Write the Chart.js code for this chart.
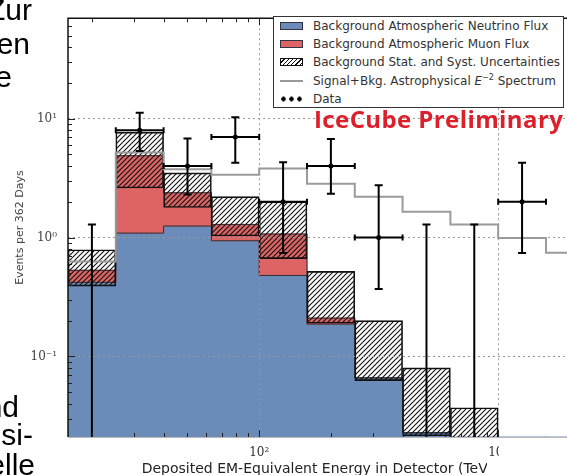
<!DOCTYPE html>
<html>
<head>
<meta charset="utf-8">
<script src="https://cdn.jsdelivr.net/npm/chart.js@4.4.0/dist/chart.umd.min.js"></script>
<style>
  html, body { margin: 0; padding: 0; background: #fff; overflow: hidden; }
  #wrap { position: relative; width: 567px; height: 475px; overflow: hidden; }
  #chart { position: absolute; left: 0; top: 0; }
  .slide { position: absolute; font-family: 'Liberation Sans', Arial, sans-serif; font-size: 30px; line-height: 30px; color: #000; white-space: nowrap; transform: translateX(-100%); }
  #legend { position: absolute; left: 273px; top: 16px; width: 291px; height: 92px; border: 1px solid #333; background: #fff; box-sizing: border-box;
            font-family: 'DejaVu Sans', sans-serif; font-size: 12px; color: #333; }
  #legend .row { position: relative; height: 18.2px; line-height: 18.2px; padding-left: 39px; white-space: nowrap; }
  #legend .row sup { font-size: 8px; line-height: 0; vertical-align: 5px; }
  #legend .mark { position: absolute; left: 6px; top: 50%; width: 23px; transform: translateY(-50%); }
  #preliminary { position: absolute; left: 314px; top: 107px; font-family: 'Open Sans', sans-serif; font-weight: 700; font-size: 24px; line-height: 24px; letter-spacing: 0.4px; color: #dc1f2b; white-space: nowrap; }
  .cover { position: absolute; background: #fff; }
</style>
</head>
<body>
<div id="wrap">
  <canvas id="chart" width="567" height="475"></canvas>
  <div id="legend"></div>
  <div id="preliminary">IceCube Preliminary</div>
  <div class="cover" style="left:499px; top:440px; width:68px; height:35px;"></div>
  <div class="cover" style="left:487px; top:459px; width:14px; height:16px;"></div>
  <div class="slide" style="left:32px; top:-5px;">Zur</div>
  <div class="slide" style="left:30px; top:29px;">en</div>
  <div class="slide" style="left:12px; top:62px;">e</div>
  <div class="slide" style="left:19px; top:392px;">nd</div>
  <div class="slide" style="left:33px; top:420px;">si-</div>
  <div class="slide" style="left:35px; top:450px;">elle</div>
</div>
<script>
// bins are 0.2 wide in log10(E / TeV)
const binEdgesLog = [1.2, 1.4, 1.6, 1.8, 2.0, 2.2, 2.4, 2.6, 2.8, 3.0, 3.2, 3.4];
const neutrinoFlux = [0.42, 1.09, 1.25, 0.94, 0.48, 0.187, 0.066, 0.0228, 0.012, 0.006, 0.004];
const muonFlux = [0.11, 3.79, 1.13, 0.35, 0.59, 0.023, 0, 0, 0, 0, 0];
const uncertLow = [0.39, 2.61, 1.79, 1.03, 0.665, 0.19, 0.0625, 0.0215, 0.005, null, null];
const uncertHigh = [0.79, 7.7, 3.5, 2.21, 2.0, 0.52, 0.2, 0.08, 0.037, null, null];
const signalBkg = [0.63, 5.2, 3.75, 3.38, 3.8, 2.83, 2.2, 1.65, 1.29, 0.99, 0.745];
const dataCounts = [0, 8, 4, 7, 2, 4, 1, 0, 0, 2];
const dataLow = [0, 5.35, 2.3, 4.25, 0.74, 2.33, 0.37, 0, 0, 0.74];
const dataHigh = [1.29, 11.2, 6.8, 10.3, 4.3, 6.75, 2.76, 1.29, 1.29, 4.25];
const xTickValues = [2, 3];
const yTickValues = [0.1, 1, 10];

const BLUE = '#6b8bb9';
const RED = '#dc6464';
const GREY = '#9a9a9a';
const EDGE = '#2e2e36';

const legendItems = [
    { kind: 'box', color: BLUE, text: 'Background Atmospheric Neutrino Flux' },
    { kind: 'box', color: RED, text: 'Background Atmospheric Muon Flux' },
    { kind: 'hatch', text: 'Background Stat. and Syst. Uncertainties' },
    { kind: 'line', text: 'Signal+Bkg. Astrophysical <i>E</i><sup>\u22122</sup> Spectrum' },
    { kind: 'dots', text: 'Data' }
];

const SUP = { '-': '\u207B', '0': '\u2070', '1': '\u00B9', '2': '\u00B2', '3': '\u00B3' };
function pow10Label(exp) {
    return '10' + String(exp).split('').map(c => SUP[c]).join('');
}

function makeHatch() {
    const s = 5;
    const c = document.createElement('canvas');
    c.width = s; c.height = s;
    const g = c.getContext('2d');
    g.strokeStyle = '#111';
    g.lineWidth = 1.1;
    g.beginPath();
    g.moveTo(0, s); g.lineTo(s, 0);
    g.moveTo(-1, 1); g.lineTo(1, -1);
    g.moveTo(s - 1, s + 1); g.lineTo(s + 1, s - 1);
    g.stroke();
    return g.createPattern(c, 'repeat');
}

function buildLegend() {
    const box = document.getElementById('legend');
    legendItems.forEach(item => {
        const row = document.createElement('div');
        row.className = 'row';
        let mark = '';
        if (item.kind === 'box') {
            mark = `<span class="mark" style="height:8px;background:${item.color};border:1px solid #334;box-sizing:border-box"></span>`;
        } else if (item.kind === 'hatch') {
            mark = '<span class="mark" style="height:8px;border:1px solid #111;box-sizing:border-box;background:repeating-linear-gradient(135deg,#fff 0 2px,#111 2px 3px)"></span>';
        } else if (item.kind === 'line') {
            mark = `<span class="mark" style="height:2px;background:${GREY}"></span>`;
        } else {
            mark = '<span class="mark" style="height:5px;background:radial-gradient(circle at 2.5px 2.5px,#000 2px,transparent 2.5px) 1px 0/8px 5px repeat-x"></span>';
        }
        row.innerHTML = mark + item.text;
        box.appendChild(row);
    });
}

// step outline through the bin edges (last bin value repeated at the right edge)
function stepPoints(values) {
    return binEdgesLog.map((e, i) => ({ x: e, y: values[Math.min(i, values.length - 1)] }));
}

document.addEventListener('DOMContentLoaded', () => {
    buildLegend();

    const centers = binEdgesLog.slice(0, -1).map((e, i) => (e + binEdgesLog[i + 1]) / 2);
    const totalBkg = neutrinoFlux.map((v, i) => v + muonFlux[i]);
    const hatch = makeHatch();

    // error bars of the data points, drawn through the chart scales
    const errorBars = {
        id: 'errorBars',
        afterDraw(chart) {
            const { ctx, chartArea: a, scales: { x, y } } = chart;
            ctx.save();
            ctx.beginPath();
            ctx.rect(a.left, a.top, a.right - a.left, a.bottom - a.top);
            ctx.clip();
            ctx.strokeStyle = '#000';
            ctx.fillStyle = '#000';
            ctx.lineWidth = 2;
            dataCounts.forEach((n, i) => {
                const cx = x.getPixelForValue(centers[i]);
                const yTop = y.getPixelForValue(dataHigh[i]);
                const yBot = dataLow[i] > 0 ? y.getPixelForValue(dataLow[i]) : a.bottom + 2;
                ctx.beginPath();
                ctx.moveTo(cx, yTop); ctx.lineTo(cx, yBot);
                ctx.moveTo(cx - 4, yTop); ctx.lineTo(cx + 4, yTop);
                if (dataLow[i] > 0) { ctx.moveTo(cx - 4, yBot); ctx.lineTo(cx + 4, yBot); }
                if (n > 0) {
                    const yc = y.getPixelForValue(n);
                    const x0 = x.getPixelForValue(binEdgesLog[i]);
                    const x1 = x.getPixelForValue(binEdgesLog[i + 1]);
                    ctx.moveTo(x0, yc); ctx.lineTo(x1, yc);
                    ctx.moveTo(x0, yc - 3); ctx.lineTo(x0, yc + 3);
                    ctx.moveTo(x1, yc - 3); ctx.lineTo(x1, yc + 3);
                }
                ctx.stroke();
                if (n > 0) {
                    ctx.beginPath();
                    ctx.arc(cx, y.getPixelForValue(n), 2.5, 0, Math.PI * 2);
                    ctx.fill();
                }
            });
            ctx.restore();
        }
    };

    // spines and inward matplotlib-like ticks
    const axisDecor = {
        id: 'axisDecor',
        afterDraw(chart) {
            const { ctx, chartArea: a, scales: { x, y } } = chart;
            ctx.save();
            ctx.lineWidth = 1;
            ctx.strokeStyle = '#222';
            ctx.beginPath();
            for (let n = 1; n <= 3; n++) {
                for (let k = 1; k <= 9; k++) {
                    const v = n + Math.log10(k);
                    if (v < x.min || v > x.max) continue;
                    const px = Math.round(x.getPixelForValue(v)) + 0.5;
                    const len = k === 1 ? 7 : 4;
                    ctx.moveTo(px, a.bottom); ctx.lineTo(px, a.bottom - len);
                    ctx.moveTo(px, a.top); ctx.lineTo(px, a.top + len);
                }
            }
            for (let n = -2; n <= 1; n++) {
                for (let k = 1; k <= 9; k++) {
                    const v = k * Math.pow(10, n);
                    if (v < y.min || v > y.max) continue;
                    const py = Math.round(y.getPixelForValue(v)) + 0.5;
                    const len = k === 1 ? 7 : 4;
                    ctx.moveTo(a.left, py); ctx.lineTo(a.left + len, py);
                }
            }
            ctx.stroke();
            ctx.strokeStyle = '#bbb';
            ctx.beginPath();
            ctx.moveTo(a.left, a.bottom + 0.5); ctx.lineTo(a.right, a.bottom + 0.5);
            ctx.stroke();
            ctx.strokeStyle = '#111';
            ctx.lineWidth = 1.5;
            ctx.beginPath();
            ctx.moveTo(a.left, a.bottom); ctx.lineTo(a.left, a.top); ctx.lineTo(a.right, a.top);
            ctx.stroke();
            ctx.restore();
        }
    };

    const datasets = [
        {
            type: 'line',
            data: stepPoints(signalBkg),
            stepped: true,
            borderColor: GREY,
            borderWidth: 2,
            pointRadius: 0,
            order: 1
        },
        {
            data: centers.map((c, i) => ({ x: c, y: uncertHigh[i] == null ? null : [uncertLow[i], uncertHigh[i]] })),
            backgroundColor: hatch,
            borderColor: '#111',
            borderWidth: 1,
            borderSkipped: false,
            grouped: false,
            order: 2
        },
        {
            type: 'line',
            data: stepPoints(totalBkg),
            stepped: true,
            borderColor: EDGE,
            borderWidth: 1,
            pointRadius: 0,
            order: 3
        },
        {
            type: 'line',
            data: stepPoints(neutrinoFlux),
            stepped: true,
            borderColor: EDGE,
            borderWidth: 1,
            pointRadius: 0,
            order: 4
        },
        {
            data: centers.map((c, i) => ({ x: c, y: muonFlux[i] > 0 ? [neutrinoFlux[i], totalBkg[i]] : null })),
            backgroundColor: RED,
            borderWidth: 0,
            inflateAmount: 0.5,
            grouped: false,
            order: 5
        },
        {
            data: centers.map((c, i) => ({ x: c, y: neutrinoFlux[i] })),
            backgroundColor: BLUE,
            borderWidth: 0,
            inflateAmount: 0.5,
            grouped: false,
            order: 6
        }
    ];

    const ctx = document.getElementById('chart').getContext('2d');
    new Chart(ctx, {
        type: 'bar',
        data: { datasets: datasets },
        options: {
            responsive: false,
            animation: false,
            devicePixelRatio: 1,
            barPercentage: 1,
            categoryPercentage: 1,
            layout: { padding: { top: 10, right: 0, bottom: 0, left: 0 } },
            plugins: { legend: { display: false }, tooltip: { enabled: false } },
            scales: {
                x: {
                    type: 'linear',
                    min: 1.2,
                    max: 3.288,
                    offset: false,
                    afterBuildTicks: axis => { axis.ticks = xTickValues.map(v => ({ value: v })); },
                    afterFit: axis => { axis.height = 38; },
                    grid: { offset: false, color: '#999', lineWidth: 1, drawTicks: false, z: 1 },
                    border: { display: false, dash: [2, 3] },
                    ticks: {
                        padding: 9,
                        color: '#333',
                        font: { family: 'DejaVu Serif', size: 12 },
                        callback: v => pow10Label(v)
                    },
                    title: {
                        display: true,
                        text: 'Deposited EM-Equivalent Energy in Detector (TeV)',
                        color: '#222',
                        font: { family: 'DejaVu Sans', size: 14 },
                        padding: { top: 0, bottom: -3 }
                    }
                },
                y: {
                    type: 'logarithmic',
                    min: 0.021,
                    max: 70,
                    afterBuildTicks: axis => { axis.ticks = yTickValues.map(v => ({ value: v })); },
                    afterFit: axis => { axis.width = 68; },
                    grid: { color: '#999', lineWidth: 1, drawTicks: false, z: 1 },
                    border: { display: false, dash: [2, 3] },
                    ticks: {
                        padding: 11,
                        color: '#444',
                        font: { family: 'DejaVu Serif', size: 12 },
                        callback: v => pow10Label(Math.round(Math.log10(v)))
                    },
                    title: {
                        display: true,
                        text: 'Events per 362 Days',
                        color: '#444',
                        font: { family: 'DejaVu Sans', size: 11 },
                        padding: { top: 14, bottom: 0 }
                    }
                }
            }
        },
        plugins: [errorBars, axisDecor]
    });
});
</script>
</body>
</html>
